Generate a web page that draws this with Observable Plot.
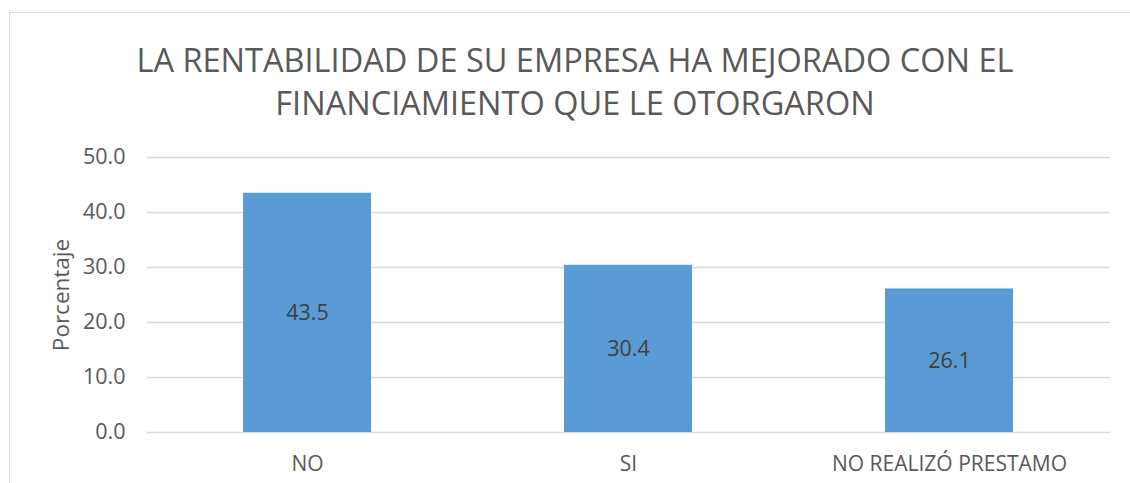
<!DOCTYPE html>
<html>
<head>
<meta charset="utf-8">
<script src="https://cdn.jsdelivr.net/npm/d3@7"></script>
<script src="https://cdn.jsdelivr.net/npm/@observablehq/plot@0.6"></script>
<style>
  html, body { margin: 0; padding: 0; background: #fff; overflow: hidden; }
  #wrap { position: relative; width: 1130px; height: 483px; font-family: "Open Sans", sans-serif; }
  #border { position: absolute; left: 9px; top: 12px; width: 1140px; height: 500px; border-left: 1.5px solid #d9d9d9; border-top: 1.5px solid #d9d9d9; box-sizing: border-box; }
  #header { position: relative; height: 140px; }
  #title { position: absolute; left: 0; width: 1150px; top: 38px; text-align: center; font-size: 32.5px; line-height: 43px; color: #595959; }
  #chart { position: relative; }
</style>
</head>
<body>
<div id="wrap">
  <div id="border"></div>
  <div id="header"><div id="title">LA RENTABILIDAD DE SU EMPRESA HA MEJORADO CON EL<br>FINANCIAMIENTO QUE LE OTORGARON</div></div>
  <div id="chart"></div>
</div>
<script>
const categories = ["NO", "SI", "NO REALIZÓ PRESTAMO"];
const values = [43.5, 30.4, 26.1];
const yTicks = [0, 10, 20, 30, 40, 50];
const yLabel = "Porcentaje";

const data = categories.map((c, i) => ({category: c, value: values[i]}));

const chart = Plot.plot({
  width: 1130,
  height: 343,
  marginLeft: 147,
  marginRight: 20,
  marginTop: 17,
  marginBottom: 51,
  style: {fontFamily: "Open Sans, sans-serif", fontSize: "21px", color: "#595959", background: "transparent"},
  x: {domain: categories, paddingInner: 0.6, paddingOuter: 0.3, label: null},
  y: {domain: [0, 50], label: null},
  marks: [
    Plot.ruleY(yTicks, {stroke: "#d9d9d9", strokeWidth: 1.3}),
    Plot.barY(data, {x: "category", y: "value", fill: "#5b9bd5"}),
    Plot.text(data, {x: "category", y: d => d.value / 2, text: d => d.value.toFixed(1), fill: "#404040", fontSize: 21.5}),
    Plot.axisY(yTicks, {tickSize: 0, tickPadding: 22, tickFormat: d => d.toFixed(1), fontSize: 21.5, label: null}),
    Plot.axisX({tickSize: 0, tickPadding: 24, fontSize: 21, label: null}),
    Plot.text([yLabel], {frameAnchor: "left", textAnchor: "middle", rotate: -90, dx: -86, fontSize: 22.5, fill: "#595959"})
  ]
});
document.getElementById("chart").appendChild(chart);
</script>
</body>
</html>
